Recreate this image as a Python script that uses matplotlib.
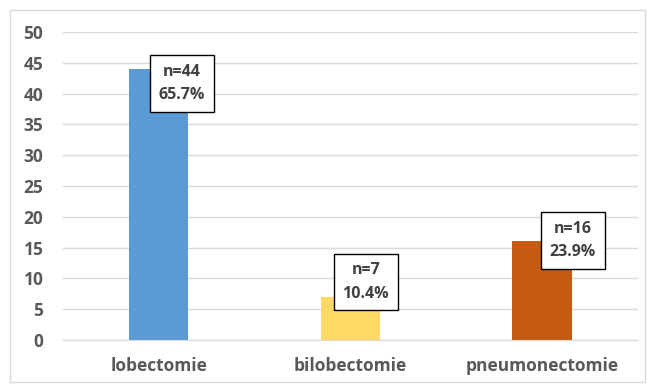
import matplotlib.pyplot as plt
from matplotlib.patches import Rectangle

categories = ['lobectomie', 'bilobectomie', 'pneumonectomie']
counts = [44, 7, 16]
percents = ['65.7%', '10.4%', '23.9%']
colors = ['#5B9BD5', '#FFD966', '#C55A11']

# label box positions (x offset from bar centre, y in data units)
label_dx = [0.12, 0.08, 0.16]
label_y = [41.6, 9.4, 16.2]

plt.rcParams['font.family'] = ['Open Sans', 'DejaVu Sans']

fig = plt.figure(figsize=(6.47, 3.85), dpi=100)
ax = fig.add_axes([0.097, 0.117, 0.889, 0.8])

x = range(len(categories))
ax.bar(x, counts, width=0.31, color=colors, zorder=2)

for i, (n, p) in enumerate(zip(counts, percents)):
    ax.text(i + label_dx[i], label_y[i], f'n={n}\n{p}', ha='center', va='center',
            fontsize=11.5, fontweight='bold', color='#404040', linespacing=1.6, zorder=3,
            bbox=dict(boxstyle='square,pad=0.55', facecolor='white', edgecolor='black', linewidth=1))

ax.set_xlim(-0.5, 2.5)
ax.set_ylim(0, 50)
ax.set_yticks(range(0, 51, 5))
ax.set_xticks(list(x))
ax.set_xticklabels(categories)
ax.yaxis.grid(True, color='#D9D9D9', linewidth=1, zorder=0)
ax.tick_params(axis='both', length=0, colors='#595959', labelsize=12.5)
ax.tick_params(axis='x', pad=12)
ax.tick_params(axis='y', pad=14)
for lbl in ax.get_xticklabels() + ax.get_yticklabels():
    lbl.set_fontweight('bold')
for s in ax.spines.values():
    s.set_visible(False)
ax.spines['bottom'].set_visible(True)
ax.spines['bottom'].set_color('#D9D9D9')

# outer chart frame
fig.patches.append(Rectangle((10 / 647, 3 / 385), 635 / 647, 372 / 385, transform=fig.transFigure,
                             fill=False, edgecolor='#D9D9D9', linewidth=1))

fig.savefig('out.png', dpi=100)
